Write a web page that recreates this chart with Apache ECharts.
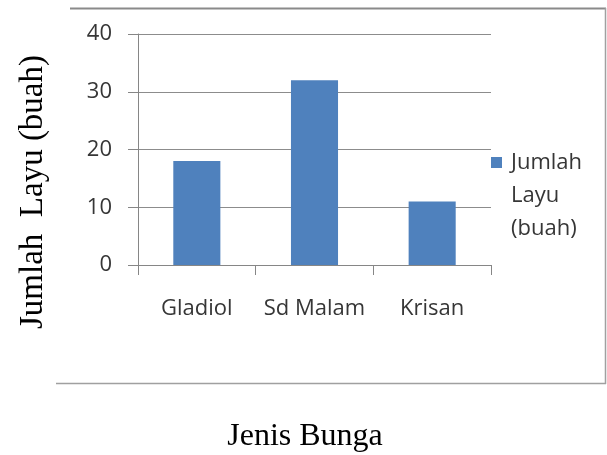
<!DOCTYPE html>
<html>
<head>
<meta charset="utf-8">
<script src="https://cdn.jsdelivr.net/npm/echarts@6/dist/echarts.min.js"></script>
<style>
html,body{margin:0;padding:0;background:#fff;}
#chart{width:607px;height:455px;}
</style>
</head>
<body>
<div id="chart"></div>
<script>
var categories = ['Gladiol', 'Sd Malam', 'Krisan'];
var seriesName = 'Jumlah Layu (buah)';
var values = [18, 32, 11];
var yTicks = { min: 0, max: 40, interval: 10 };
var xTitle = 'Jenis Bunga';
var yTitle = 'Jumlah  Layu (buah)';

var chart = echarts.init(document.getElementById('chart'), null, { renderer: 'canvas' });
var labelFont = '"Open Sans", "Noto Sans", sans-serif';
var textColor = '#363636';
var lineH = 33;

chart.setOption({
  animation: false,
  backgroundColor: '#ffffff',
  grid: { left: 138, right: 116, top: 34, bottom: 190 },
  xAxis: {
    type: 'category',
    data: categories,
    boundaryGap: true,
    axisLine: { show: true, lineStyle: { color: '#868686', width: 1 } },
    axisTick: { show: true, length: 10, alignWithLabel: false, lineStyle: { color: '#868686' } },
    axisLabel: { interval: 0, color: textColor, fontFamily: labelFont, fontSize: 22, margin: 33 },
    splitLine: { show: false }
  },
  yAxis: {
    type: 'value',
    min: yTicks.min,
    max: yTicks.max,
    interval: yTicks.interval,
    axisLine: { show: true, lineStyle: { color: '#868686', width: 1 } },
    axisTick: { show: true, length: 10, lineStyle: { color: '#868686' } },
    axisLabel: { color: textColor, fontFamily: labelFont, fontSize: 22, margin: 26 },
    splitLine: { show: true, lineStyle: { color: '#8c8c8c', width: 1 } }
  },
  legend: {
    show: true,
    left: 491,
    top: 162.5 - 2.5 * lineH,
    padding: 0,
    orient: 'vertical',
    icon: 'rect',
    itemWidth: 11,
    itemHeight: 11,
    itemGap: 6,
    formatter: function (n) { return '\n\n' + n.split(' ').join('\n'); },
    textStyle: {
      color: textColor,
      fontFamily: labelFont,
      fontSize: 22,
      lineHeight: lineH,
      padding: [0, 0, 0, 4]
    },
    data: [seriesName]
  },
  series: [{
    name: seriesName,
    type: 'bar',
    data: values,
    barWidth: '40%',
    itemStyle: { color: '#4F81BD' }
  }],
  graphic: [
    { type: 'line', shape: { x1: 70, y1: 8.5, x2: 606, y2: 8.5 }, style: { stroke: '#8a8a8a', lineWidth: 2 } },
    { type: 'line', shape: { x1: 605.5, y1: 8, x2: 605.5, y2: 384 }, style: { stroke: '#a0a0a0', lineWidth: 1.5 } },
    { type: 'line', shape: { x1: 56, y1: 383.5, x2: 606, y2: 383.5 }, style: { stroke: '#a0a0a0', lineWidth: 1.5 } },
    {
      type: 'text', x: 33, y: 192, rotation: Math.PI / 2,
      style: { text: yTitle, font: '33px "Liberation Serif", "Times New Roman", serif', fill: '#000', textAlign: 'center', textVerticalAlign: 'middle' }
    },
    {
      type: 'text', x: 305, y: 437,
      style: { text: xTitle, font: '32px "Liberation Serif", "Times New Roman", serif', fill: '#000', textAlign: 'center', textVerticalAlign: 'middle' }
    }
  ]
});
</script>
</body>
</html>
